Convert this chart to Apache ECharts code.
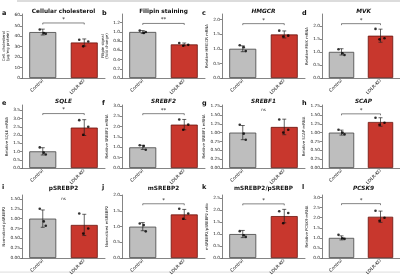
<!DOCTYPE html>
<html>
<head>
<meta charset="utf-8">
<script src="https://cdn.jsdelivr.net/npm/echarts@6/dist/echarts.min.js"></script>
<style>
  html, body { margin: 0; padding: 0; background: #fff; }
  #chart { width: 400px; height: 278px; }
</style>
</head>
<body>
<div id="chart"></div>
<script>
// groups on every x axis
const groups = ['Control', 'LDLR-KO'];

// one entry per panel, a..l
const panelLetters = ['a', 'b', 'c', 'd', 'e', 'f', 'g', 'h', 'i', 'j', 'k', 'l'];
const panelTitles = ['Cellular cholesterol', 'Filipin staining', 'HMGCR', 'MVK',
  'SQLE', 'SREBF2', 'SREBF1', 'SCAP',
  'pSREBP2', 'mSREBP2', 'mSREBP2/pSREBP', 'PCSK9'];
const italicTitle = [false, false, true, true, true, true, true, true, false, false, false, true];
const yNames = ['Cell. cholesterol\n(µg/mg protein)', 'Filipin signal\n(fold change)',
  'Relative HMGCR mRNA', 'Relative MVK mRNA',
  'Relative SQLE mRNA', 'Relative SREBF2 mRNA', 'Relative SREBF1 mRNA', 'Relative SCAP mRNA',
  'Normalized pSREBP2', 'Normalized mSREBP2', 'mSREBP2/pSREBP2 ratio', 'Relative PCSK9 mRNA'];

// bar heights [Control, LDLR-KO]
const means = [[44, 34], [1.0, 0.73], [1.0, 1.49], [1.0, 1.62],
  [1.01, 2.45], [1.0, 2.1], [1.0, 1.16], [1.0, 1.3],
  [1.0, 0.84], [1.0, 1.39], [1.0, 1.75], [1.0, 2.05]];
// error bar half-lengths [Control, LDLR-KO]
const errors = [[2.8, 3.4], [0.03, 0.03], [0.1, 0.12], [0.12, 0.25],
  [0.22, 0.48], [0.1, 0.25], [0.2, 0.22], [0.07, 0.12],
  [0.22, 0.27], [0.13, 0.16], [0.15, 0.28], [0.1, 0.28]];
// individual replicates
const controlPoints = [[46.5, 43, 42.3], [1.03, 0.98, 1.0], [1.12, 1.05, 0.92], [1.1, 0.95, 0.88],
  [1.25, 0.93, 0.82], [1.1, 1.06, 0.88], [1.22, 0.97, 0.8], [1.08, 1.0, 0.95],
  [1.25, 0.93, 0.82], [1.1, 1.05, 0.85], [1.12, 0.95, 0.88], [1.15, 0.98, 0.95]];
const koPoints = [[36.7, 35, 30.3], [0.76, 0.72, 0.7], [1.62, 1.45, 1.42], [1.88, 1.52, 1.48],
  [2.9, 2.5, 2.02], [2.35, 2.1, 1.85], [1.37, 1.08, 1.0], [1.42, 1.28, 1.22],
  [1.13, 0.75, 0.62], [1.57, 1.42, 1.25], [1.95, 1.88, 1.45], [2.35, 2.0, 1.85]];
// horizontal jitter of the replicate dots (px)
const controlJitter = [-3, 1, 3];
const koJitter = [-5, 4, -1];

// y axis extent and tick labels
const yMaxes = [61.3, 1.39, 2.19, 2.45, 3.82, 3.05, 1.78, 1.78, 1.6, 2.01, 2.63, 3.13];
const yTickLabels = [
  ['0', '10', '20', '30', '40', '50', '60'],
  ['0.0', '0.2', '0.4', '0.6', '0.8', '1.0', '1.2'],
  ['0.0', '0.5', '1.0', '1.5', '2.0'],
  ['0.0', '0.5', '1.0', '1.5', '2.0'],
  ['0.0', '0.5', '1.0', '1.5', '2.0', '2.5', '3.0', '3.5'],
  ['0.0', '0.5', '1.0', '1.5', '2.0', '2.5', '3.0'],
  ['0.00', '0.25', '0.50', '0.75', '1.00', '1.25', '1.50', '1.75'],
  ['0.00', '0.25', '0.50', '0.75', '1.00', '1.25', '1.50', '1.75'],
  ['0.00', '0.25', '0.50', '0.75', '1.00', '1.25', '1.50'],
  ['0.0', '0.5', '1.0', '1.5', '2.0'],
  ['0.0', '0.5', '1.0', '1.5', '2.0', '2.5'],
  ['0.0', '0.5', '1.0', '1.5', '2.0', '2.5', '3.0']];

// significance marks and their height
const sigLabels = ['*', '**', '*', '*', '*', '**', 'ns', '*', 'ns', '*', '*', '*'];
const sigLevels = [52.7, 1.185, 1.86, 2.08, 3.3, 2.63, 1.58, 1.53, 1.44, 1.73, 2.26, 2.7];

const FONT = 'DejaVu Sans';
const barColors = [
  { color: '#bebebe', borderColor: '#444', borderWidth: 0.8 },
  { color: '#c8372d', borderColor: '#6a140e', borderWidth: 0.8 }
];
const rowTops = [14, 105, 195];
const rowHeights = [64, 63, 63];
const titleTops = [8, 98, 185];
const letterTops = [9.5, 100, 183.5];

const grids = [], xAxes = [], yAxes = [], series = [], titles = [];

panelTitles.forEach((name, i) => {
  const col = i % 4, row = Math.floor(i / 4);
  const left = col * 100 + 22;
  grids.push({ left: left, top: rowTops[row], width: 83, height: rowHeights[row] });

  xAxes.push({
    gridIndex: i, type: 'category', data: groups,
    axisLine: { lineStyle: { color: '#333', width: 0.6 } },
    axisTick: { alignWithLabel: true, length: 2, lineStyle: { color: '#333', width: 0.6 } },
    axisLabel: { rotate: 45, interval: 0, fontSize: 4.5, margin: 2, color: '#222', fontFamily: FONT }
  });

  const ticks = yTickLabels[i].map(Number);
  yAxes.push({
    gridIndex: i, type: 'value', min: 0, max: yMaxes[i],
    name: yNames[i], nameLocation: 'middle', nameGap: yNames[i].includes('\n') ? 9 : 11,
    nameTextStyle: { fontSize: 3.8, lineHeight: 4.5, color: '#222', fontFamily: FONT },
    axisLine: { show: true, lineStyle: { color: '#333', width: 0.6 } },
    axisTick: { show: true, length: 2, customValues: ticks, lineStyle: { color: '#333', width: 0.6 } },
    axisLabel: {
      fontSize: 4.3, margin: 2, color: '#222', fontFamily: FONT, customValues: ticks,
      formatter: v => yTickLabels[i][ticks.indexOf(v)] ?? ''
    },
    splitLine: { show: false }
  });

  titles.push({
    text: name, left: left + 41.5, top: titleTops[row], textAlign: 'center', padding: 0,
    textStyle: { fontSize: 5.8, fontWeight: 'bold', fontStyle: italicTitle[i] ? 'italic' : 'normal', color: '#111', fontFamily: FONT }
  });
  titles.push({
    text: panelLetters[i], left: col * 100 + 2, top: letterTops[row], padding: 0,
    textStyle: { fontSize: 6.5, fontWeight: 'bold', color: '#111', fontFamily: FONT }
  });

  series.push({
    type: 'bar', xAxisIndex: i, yAxisIndex: i, barWidth: '65%',
    data: means[i].map((m, g) => ({ value: m, itemStyle: barColors[g] })),
    silent: true
  });

  series.push({
    type: 'custom', xAxisIndex: i, yAxisIndex: i, silent: true, z: 5,
    data: means[i].map((m, g) => [g, m, errors[i][g]]),
    renderItem: (params, api) => {
      const x = api.value(0), m = api.value(1), e = api.value(2);
      const top = api.coord([x, m + e]), bot = api.coord([x, m - e]);
      const st = { stroke: '#222', lineWidth: 0.7 };
      return {
        type: 'group', children: [
          { type: 'line', shape: { x1: top[0], y1: top[1], x2: bot[0], y2: bot[1] }, style: st },
          { type: 'line', shape: { x1: top[0] - 2, y1: top[1], x2: top[0] + 2, y2: top[1] }, style: st },
          { type: 'line', shape: { x1: bot[0] - 2, y1: bot[1], x2: bot[0] + 2, y2: bot[1] }, style: st }
        ]
      };
    }
  });

  const pts = [];
  controlPoints[i].forEach((v, k) => pts.push({ value: [0, v], symbolOffset: [controlJitter[k], 0] }));
  koPoints[i].forEach((v, k) => pts.push({ value: [1, v], symbolOffset: [koJitter[k], 0] }));
  series.push({
    type: 'scatter', xAxisIndex: i, yAxisIndex: i, symbolSize: 2.6, z: 6, silent: true,
    itemStyle: { color: '#000' }, data: pts
  });

  series.push({
    type: 'custom', xAxisIndex: i, yAxisIndex: i, silent: true, z: 7,
    data: [[sigLevels[i]]],
    renderItem: (params, api) => {
      const lvl = api.value(0);
      const p0 = api.coord([0, lvl]), p1 = api.coord([1, lvl]);
      const label = sigLabels[i];
      const st = { stroke: '#333', lineWidth: 0.6 };
      const children = [];
      if (label !== 'ns') {
        children.push({ type: 'polyline', shape: { points: [[p0[0], p0[1] + 1.5], [p0[0], p0[1]], [p1[0], p1[1]], [p1[0], p1[1] + 1.5]] }, style: Object.assign({ fill: null }, st) });
      }
      children.push({
        type: 'text',
        style: {
          text: label, x: (p0[0] + p1[0]) / 2, y: p0[1] - (label === 'ns' ? 0 : 0.5),
          align: 'center', verticalAlign: 'bottom', textAlign: 'center', textVerticalAlign: 'bottom',
          fontSize: label === 'ns' ? 4 : 5.5, fontFamily: FONT, fill: '#222'
        }
      });
      return { type: 'group', children: children };
    }
  });
});

const chart = echarts.init(document.getElementById('chart'), null, { renderer: 'canvas' });
chart.setOption({
  animation: false,
  backgroundColor: '#fff',
  title: titles,
  grid: grids,
  xAxis: xAxes,
  yAxis: yAxes,
  series: series,
  graphic: [
    { type: 'rect', shape: { x: 17, y: 0, width: 383, height: 2 }, style: { fill: '#dcdcdc' }, silent: true },
    { type: 'rect', shape: { x: 0, y: 271.5, width: 400, height: 1.2 }, style: { fill: '#e4e4e4' }, silent: true }
  ]
});
</script>
</body>
</html>
